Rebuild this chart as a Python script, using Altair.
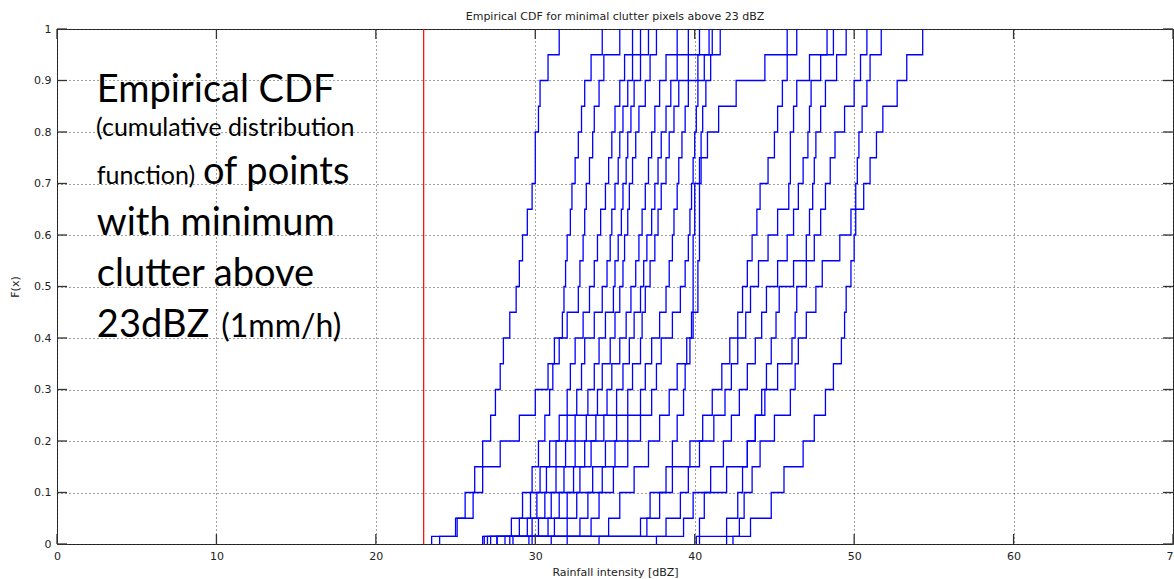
import altair as alt
import pandas as pd

# ---- data -----------------------------------------------------------------
# cumulative-probability levels at which each curve's x position was read
LEVELS = [0.015, 0.05, 0.10, 0.15, 0.20, 0.25, 0.30, 0.35, 0.40, 0.45, 0.50,
          0.55, 0.60, 0.65, 0.70, 0.75, 0.80, 0.85, 0.90, 0.95, 1.00]

# rainfall intensity [dBZ] at which each empirical CDF reaches the levels above
c01 = [24.0, 25.1, 25.6, 26.2, 26.7, 27.2, 27.5, 27.8, 28.0, 28.4, 28.8, 29.0, 29.2, 29.5, 29.8, 30.0, 30.0, 30.2, 30.3, 30.8, 31.5]
c02 = [23.5, 25.0, 26.1, 26.7, 27.8, 29.0, 30.0, 30.8, 31.2, 32.0, 32.7, 32.8, 33.0, 33.1, 33.2, 33.4, 33.6, 33.7, 34.0, 34.3, 35.3]
c03 = [26.7, 28.5, 29.2, 29.8, 30.2, 30.6, 30.9, 31.1, 31.5, 31.7, 31.8, 31.9, 32.0, 32.2, 32.3, 32.5, 32.7, 32.9, 33.1, 33.5, 34.2]
c04 = [27.0, 29.0, 29.7, 30.3, 30.9, 31.5, 32.0, 32.2, 32.5, 33.0, 33.4, 33.7, 33.9, 34.1, 34.4, 34.6, 34.8, 35.0, 35.3, 35.6, 36.1]
c05 = [27.6, 29.5, 30.1, 30.7, 31.3, 32.0, 32.6, 32.9, 33.1, 33.7, 34.2, 34.5, 34.7, 34.8, 35.0, 35.2, 35.3, 35.5, 35.8, 36.1, 36.6]
c06 = [28.1, 29.8, 30.6, 31.3, 31.9, 32.5, 33.3, 33.7, 34.0, 34.4, 34.9, 35.0, 35.2, 35.4, 35.5, 35.7, 35.8, 36.0, 36.2, 36.6, 37.1]
c07 = [28.4, 30.2, 31.0, 31.8, 32.5, 33.2, 33.9, 34.2, 34.7, 35.0, 35.3, 35.5, 35.6, 35.8, 35.9, 36.1, 36.3, 36.5, 36.9, 37.2, 37.6]
c08 = [27.2, 30.8, 31.5, 32.4, 33.1, 33.8, 34.5, 34.8, 35.3, 35.7, 36.0, 36.3, 36.5, 36.7, 36.9, 37.1, 37.3, 37.5, 37.8, 38.2, 38.9]
c09 = [29.8, 31.2, 32.0, 32.8, 33.5, 34.3, 35.1, 35.5, 35.9, 36.2, 36.6, 36.8, 37.0, 37.3, 37.5, 37.7, 37.9, 38.2, 38.5, 38.9, 39.6]
c10 = [27.6, 32.0, 32.6, 33.6, 34.4, 35.1, 35.8, 36.1, 36.6, 36.7, 36.9, 37.2, 37.5, 37.7, 37.9, 38.2, 38.4, 38.7, 39.0, 39.6, 40.3]
c11 = [32.0, 32.8, 33.3, 34.2, 35.0, 35.8, 36.6, 36.9, 37.3, 37.8, 38.2, 38.4, 38.6, 38.7, 38.9, 39.0, 39.2, 39.4, 39.6, 40.2, 40.9]
c12 = [28.6, 33.5, 34.0, 34.9, 35.8, 36.6, 37.3, 37.6, 37.9, 38.6, 39.1, 39.4, 39.6, 39.7, 39.8, 39.9, 40.0, 40.1, 40.2, 40.6, 41.1]
c13 = [34.0, 34.6, 35.3, 36.2, 37.1, 37.8, 38.4, 38.9, 39.5, 39.9, 40.2, 40.2, 40.3, 40.3, 40.3, 40.4, 40.4, 40.5, 40.7, 41.0, 41.6]
c14 = [26.8, 37.0, 37.8, 38.2, 38.6, 38.9, 39.3, 39.4, 39.7, 39.8, 39.9, 39.9, 39.9, 40.0, 40.0, 40.3, 40.8, 41.5, 42.6, 44.4, 45.8]
c15 = [29.6, 36.6, 37.2, 38.6, 39.7, 40.5, 41.1, 41.7, 42.2, 42.7, 43.0, 43.3, 43.6, 43.9, 44.1, 44.6, 45.0, 45.2, 45.5, 45.8, 46.4]
c16 = [31.0, 38.2, 39.1, 39.6, 40.3, 41.2, 41.9, 42.3, 42.7, 43.2, 43.5, 44.0, 44.6, 45.2, 45.9, 46.0, 46.0, 46.2, 46.4, 47.2, 48.3]
c17 = [37.6, 39.3, 39.9, 41.0, 41.8, 42.3, 42.8, 43.3, 43.8, 44.2, 44.5, 45.2, 45.8, 46.2, 46.5, 46.8, 47.1, 47.2, 47.3, 47.9, 48.7]
c18 = [40.1, 40.3, 40.6, 42.0, 43.3, 43.8, 44.2, 44.5, 44.8, 45.1, 45.3, 46.2, 47.0, 47.2, 47.4, 47.5, 47.6, 47.9, 48.2, 48.9, 49.5]
c19 = [40.3, 42.0, 42.7, 43.0, 43.3, 43.8, 44.4, 45.2, 46.1, 46.3, 46.4, 47.0, 47.5, 47.9, 48.2, 48.5, 48.8, 49.4, 50.0, 50.4, 50.8]
c20 = [42.4, 42.8, 43.1, 43.6, 44.1, 45.0, 46.0, 46.3, 46.5, 47.0, 47.6, 48.0, 49.1, 49.8, 50.1, 50.2, 50.3, 50.5, 50.8, 51.0, 51.7]
c21 = [42.0, 43.5, 44.8, 45.6, 46.8, 47.5, 48.2, 48.7, 49.2, 49.4, 49.5, 49.8, 50.0, 50.1, 50.6, 51.0, 51.4, 51.8, 52.7, 53.3, 54.3]

CURVES = [c01, c02, c03, c04, c05, c06, c07, c08, c09, c10, c11,
          c12, c13, c14, c15, c16, c17, c18, c19, c20, c21]

THRESHOLD = [23]                      # red reference line [dBZ]
X_TICKS = [0, 10, 20, 30, 40, 50, 60, 70]
Y_TICKS = [0, 0.1, 0.2, 0.3, 0.4, 0.5, 0.6, 0.7, 0.8, 0.9, 1]
X_RANGE = [0, 70]
Y_RANGE = [0, 1]

ANN_BIG = ["Empirical CDF", "of points", "with minimum", "clutter above", "23dBZ"]
ANN_BIG_X = [2.5, 9.15, 2.5, 2.5, 2.5]
ANN_BIG_Y = [0.858, 0.699, 0.600, 0.501, 0.402]
ANN_SMALL = ["(cumulative distribution", "function)"]
ANN_SMALL_X = [2.45, 2.5]
ANN_SMALL_Y = [0.793, 0.699]
ANN_MID = ["(1mm/h)"]
ANN_MID_X = [10.3]
ANN_MID_Y = [0.402]

# ---- tables ----------------------------------------------------------------
rows = []
for ci, xs in enumerate(CURVES):
    rows.append({"curve": ci, "i": 0, "x": xs[0], "F": 0.0})
    for k, (xv, fv) in enumerate(zip(xs, LEVELS)):
        rows.append({"curve": ci, "i": k + 1, "x": xv, "F": fv})
df = pd.DataFrame(rows)

df_red = pd.DataFrame({"x": THRESHOLD})
df_big = pd.DataFrame({"t": ANN_BIG, "x": ANN_BIG_X, "F": ANN_BIG_Y})
df_small = pd.DataFrame({"t": ANN_SMALL, "x": ANN_SMALL_X, "F": ANN_SMALL_Y})
df_mid = pd.DataFrame({"t": ANN_MID, "x": ANN_MID_X, "F": ANN_MID_Y})
df_xt_bottom = pd.DataFrame({"x": X_TICKS, "F": [Y_RANGE[0]] * len(X_TICKS)})
df_xt_top = pd.DataFrame({"x": X_TICKS, "F": [Y_RANGE[1]] * len(X_TICKS)})
df_yt_left = pd.DataFrame({"x": [X_RANGE[0]] * len(Y_TICKS), "F": Y_TICKS})
df_yt_right = pd.DataFrame({"x": [X_RANGE[1]] * len(Y_TICKS), "F": Y_TICKS})

# ---- scales / axes ---------------------------------------------------------
xs_ = alt.Scale(domain=X_RANGE, nice=False, zero=False)
ys_ = alt.Scale(domain=Y_RANGE, nice=False)
LF = "DejaVu Sans"

x_main = alt.Axis(values=X_TICKS, title="Rainfall intensity [dBZ]", grid=True,
                  gridDash=[1, 3], gridColor="#000", gridOpacity=0.75,
                  ticks=False, tickSize=0, domain=False, labelPadding=6,
                  labelFont=LF, labelFontSize=11, labelColor="#222",
                  titleFont=LF, titleFontSize=11, titleFontWeight="normal",
                  titleColor="#222", titlePadding=5, labelFlush=False)
y_main = alt.Axis(values=Y_TICKS, format="~g", title="F(x)", grid=True,
                  gridDash=[1, 3], gridColor="#000", gridOpacity=0.75,
                  ticks=False, tickSize=0, domain=False, labelPadding=6,
                  labelFont=LF, labelFontSize=11, labelColor="#222",
                  titleFont=LF, titleFontSize=11, titleFontWeight="normal",
                  titleColor="#222", titlePadding=13, labelFlush=False)

X_ENC = alt.X("x:Q", scale=xs_, axis=x_main)
Y_ENC = alt.Y("F:Q", scale=ys_, axis=y_main)

lines = alt.Chart(df).mark_line(
    interpolate="step-after", color="#0000ff", strokeWidth=1.3
).encode(x=X_ENC, y=Y_ENC, detail="curve:N", order="i:Q")

red = alt.Chart(df_red).mark_rule(color="#ff0000", strokeWidth=1.2).encode(x=X_ENC)


def inner_ticks(d, orient, dx, dy):
    # MATLAB-style ticks drawn inside the axes box
    return alt.Chart(d).mark_tick(
        orient=orient, size=10, thickness=1.3, color="#333", opacity=1,
        xOffset=dx, yOffset=dy
    ).encode(x=X_ENC, y=Y_ENC)


t_bottom = inner_ticks(df_xt_bottom, "vertical", 0, -5)
t_top = inner_ticks(df_xt_top, "vertical", 0, 5)
t_left = inner_ticks(df_yt_left, "horizontal", 5, 0)
t_right = inner_ticks(df_yt_right, "horizontal", -5, 0)


def ann(d, size):
    return alt.Chart(d).mark_text(
        align="left", baseline="alphabetic", font="Lato", fontSize=size, color="#000"
    ).encode(x=X_ENC, y=Y_ENC, text="t:N")


chart = alt.layer(
    lines, red, t_bottom, t_top, t_left, t_right,
    ann(df_big, 38), ann(df_small, 25), ann(df_mid, 32)
).properties(
    width=1116,
    height=515,
    autosize=alt.AutoSizeParams(type="none"),
    padding={"left": 57, "top": 29, "right": 1, "bottom": 35},
    title=alt.Title("Empirical CDF for minimal clutter pixels above 23 dBZ",
                    font=LF, fontSize=11, fontWeight="normal", color="#222",
                    offset=1),
).configure_view(stroke="#333", strokeWidth=1)

chart.save("out.html", embed_options={"renderer": "svg", "actions": False})
